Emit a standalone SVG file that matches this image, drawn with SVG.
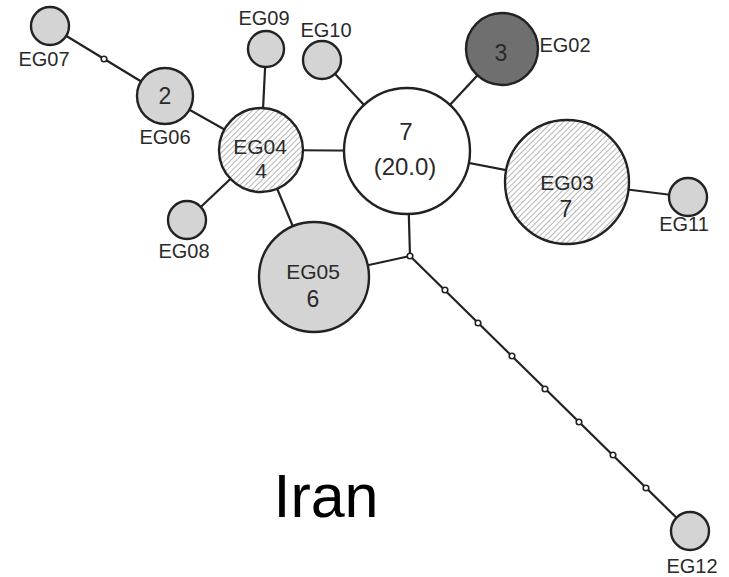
<svg xmlns="http://www.w3.org/2000/svg" width="729" height="577" viewBox="0 0 729 577">
  <defs>
    <pattern id="hatch" patternUnits="userSpaceOnUse" width="4" height="4" patternTransform="rotate(45)">
      <rect width="4" height="4" fill="#ffffff"/>
      <line x1="0" y1="0" x2="0" y2="4" stroke="#8f8f8f" stroke-width="1.3"/>
    </pattern>
    <style>
      .edge { stroke: #222222; stroke-width: 2.2; fill: none; }
      .node { stroke: #222222; stroke-width: 2.4; }
      .grey { fill: #d4d4d4; }
      .dark { fill: #6f6f6f; }
      .white { fill: #ffffff; }
      .hatched { fill: url(#hatch); }
      .mv { fill: #ffffff; stroke: #222222; stroke-width: 1.6; }
      .lbl { font-family: "Liberation Sans", Arial, sans-serif; font-size: 20px; fill: #2a2a2a; text-anchor: middle; }
      .in { font-family: "Liberation Sans", Arial, sans-serif; font-size: 21px; fill: #2a2a2a; text-anchor: middle; }
      .big { font-family: "Liberation Sans", Arial, sans-serif; font-size: 24px; fill: #2a2a2a; text-anchor: middle; }
      .num { font-family: "Liberation Sans", Arial, sans-serif; font-size: 23px; fill: #2a2a2a; text-anchor: middle; }
      .title { font-family: "Liberation Sans", Arial, sans-serif; font-size: 61px; fill: #000000; text-anchor: middle; }
    </style>
  </defs>
  <rect width="729" height="577" fill="#ffffff"/>

  <!-- connectors -->
  <g id="connectors">
    <line class="edge" x1="50" y1="26" x2="165" y2="96"/>
    <line class="edge" x1="165" y1="96" x2="261" y2="150"/>
    <line class="edge" x1="266" y1="49" x2="261" y2="150"/>
    <line class="edge" x1="187" y1="220" x2="261" y2="150"/>
    <line class="edge" x1="261" y1="150" x2="407" y2="151"/>
    <line class="edge" x1="261" y1="150" x2="314" y2="277"/>
    <line class="edge" x1="322" y1="60" x2="407" y2="151"/>
    <line class="edge" x1="502" y1="49" x2="407" y2="151"/>
    <line class="edge" x1="407" y1="151" x2="567" y2="182"/>
    <line class="edge" x1="567" y1="182" x2="688" y2="197"/>
    <line class="edge" x1="407" y1="151" x2="410" y2="256"/>
    <line class="edge" x1="314" y1="277" x2="410" y2="256"/>
    <line class="edge" x1="410" y1="256" x2="690" y2="531"/>
    <!-- median vectors -->
    <circle class="mv" cx="104" cy="59" r="2.8"/>
    <circle class="mv" cx="410" cy="256" r="2.8"/>
    <circle class="mv" cx="445" cy="290" r="2.8"/>
    <circle class="mv" cx="478" cy="323" r="2.8"/>
    <circle class="mv" cx="512" cy="356" r="2.8"/>
    <circle class="mv" cx="545" cy="389" r="2.8"/>
    <circle class="mv" cx="579" cy="422" r="2.8"/>
    <circle class="mv" cx="613" cy="455" r="2.8"/>
    <circle class="mv" cx="646" cy="488" r="2.8"/>
  </g>

  <g id="EG07">
    <circle class="node grey" cx="50" cy="26" r="19"/>
    <text class="lbl" x="44" y="66">EG07</text>
  </g>
  <g id="EG06">
    <circle class="node grey" cx="165" cy="96" r="28"/>
    <text class="num" x="165" y="104">2</text>
    <text class="lbl" x="165" y="144">EG06</text>
  </g>
  <g id="EG09">
    <circle class="node grey" cx="266" cy="49" r="18"/>
    <text class="lbl" x="264" y="25">EG09</text>
  </g>
  <g id="EG10">
    <circle class="node grey" cx="322" cy="60" r="19"/>
    <text class="lbl" x="326" y="37">EG10</text>
  </g>
  <g id="EG04">
    <circle class="node hatched" cx="261" cy="150" r="42"/>
    <text class="in" x="260" y="154">EG04</text>
    <text class="in" x="261" y="178">4</text>
  </g>
  <g id="EG08">
    <circle class="node grey" cx="187" cy="220" r="19"/>
    <text class="lbl" x="184" y="258">EG08</text>
  </g>
  <g id="EG01">
    <circle class="node white" cx="407" cy="151" r="63"/>
    <text class="big" x="406" y="140">7</text>
    <text class="big" x="405" y="175">(20.0)</text>
  </g>
  <g id="EG02">
    <circle class="node dark" cx="502" cy="49" r="36"/>
    <text class="num" x="501" y="61">3</text>
    <text class="lbl" x="565" y="52">EG02</text>
  </g>
  <g id="EG03">
    <circle class="node hatched" cx="567" cy="182" r="62"/>
    <text class="in" x="567" y="190">EG03</text>
    <text class="num" x="566" y="217">7</text>
  </g>
  <g id="EG11">
    <circle class="node grey" cx="688" cy="197" r="19"/>
    <text class="lbl" x="684" y="231">EG11</text>
  </g>
  <g id="EG05">
    <circle class="node grey" cx="314" cy="277" r="55"/>
    <text class="in" x="313" y="279">EG05</text>
    <text class="num" x="313" y="307">6</text>
  </g>
  <g id="EG12">
    <circle class="node grey" cx="690" cy="531" r="19"/>
    <text class="lbl" x="692" y="573">EG12</text>
  </g>

  <text class="title" x="326" y="517">Iran</text>
</svg>
